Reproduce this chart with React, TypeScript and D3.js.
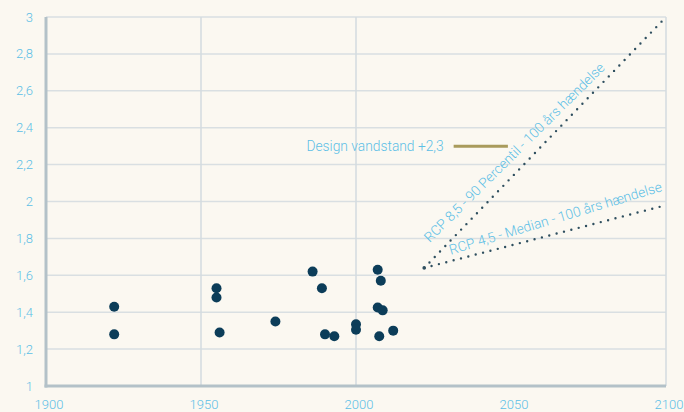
import React, { useRef, useEffect } from "react";
import * as d3 from "d3";

// observed high-water levels (year, metres)
const obsYears = [1922, 1922, 1955, 1955, 1956, 1974, 1986, 1989, 1990, 1993, 2000, 2000, 2007, 2008, 2007, 2008.6, 2007.5, 2012];
const obsLevels = [1.43, 1.28, 1.53, 1.48, 1.29, 1.35, 1.62, 1.53, 1.28, 1.27, 1.335, 1.305, 1.63, 1.57, 1.425, 1.41, 1.27, 1.30];

// projections (start / end)
const projYears = [2022, 2100];
const rcp85 = [1.64, 3.0];
const rcp45 = [1.64, 1.98];

const designLevel = 2.3;
const designYears = [2031.5, 2049];

const yTicks = [1, 1.2, 1.4, 1.6, 1.8, 2, 2.2, 2.4, 2.6, 2.8, 3];
const xTicks = [1900, 1950, 2000, 2050, 2100];
const xGrid = [1950, 2000, 2100];

const W = 684;
const H = 412;
const FONT = "Roboto, 'Noto Sans', sans-serif";
const BLUE = "#5dbfe6";
const NAVY = "#0c3d59";

const fmt = (v: number) => String(v).replace(".", ",");

const App: React.FC = () => {
  const svgRef = useRef<SVGSVGElement | null>(null);

  useEffect(() => {
    const svg = d3.select(svgRef.current);
    svg.selectAll("*").remove();

    const x = d3.scaleLinear().domain([1900, 2100]).range([46, 666]);
    const y = d3.scaleLinear().domain([1, 3]).range([386, 17]);

    svg.append("rect").attr("width", W).attr("height", H).attr("fill", "#fbf8f1");

    // horizontal grid
    svg.append("g")
      .selectAll("line")
      .data(yTicks.slice(1))
      .enter()
      .append("line")
      .attr("x1", x(1900))
      .attr("x2", x(2100))
      .attr("y1", (d) => y(d))
      .attr("y2", (d) => y(d))
      .attr("stroke", "#d9dfe2")
      .attr("stroke-width", 1.5);

    // vertical grid
    svg.append("g")
      .selectAll("line")
      .data(xGrid)
      .enter()
      .append("line")
      .attr("x1", (d) => x(d))
      .attr("x2", (d) => x(d))
      .attr("y1", y(3))
      .attr("y2", y(1))
      .attr("stroke", "#d3dbdf")
      .attr("stroke-width", 1.5);

    // axis lines
    svg.append("line")
      .attr("x1", x(1900)).attr("x2", x(1900))
      .attr("y1", y(3)).attr("y2", y(1) + 1.5)
      .attr("stroke", "#b3c1c8").attr("stroke-width", 3);
    svg.append("line")
      .attr("x1", x(1900) - 1.5).attr("x2", x(2100))
      .attr("y1", y(1)).attr("y2", y(1))
      .attr("stroke", "#b3c1c8").attr("stroke-width", 3);

    // tick labels
    svg.append("g")
      .selectAll("text")
      .data(yTicks)
      .enter()
      .append("text")
      .attr("x", 33)
      .attr("y", (d) => y(d))
      .attr("dy", "0.35em")
      .attr("text-anchor", "end")
      .attr("font-family", FONT)
      .attr("font-weight", 300)
      .attr("font-size", 13)
      .attr("fill", BLUE)
      .text((d) => fmt(d));

    svg.append("g")
      .selectAll("text")
      .data(xTicks)
      .enter()
      .append("text")
      .attr("x", (d) => x(d) + 3)
      .attr("y", 409)
      .attr("text-anchor", "middle")
      .attr("font-family", FONT)
      .attr("font-weight", 300)
      .attr("font-size", 13)
      .attr("fill", BLUE)
      .text((d) => d);

    // projection lines
    const line = d3
      .line<number>()
      .x((_, i) => x(projYears[i]))
      .y((d) => y(d));

    [rcp85, rcp45].forEach((s) => {
      svg.append("path")
        .attr("d", line(s) as string)
        .attr("fill", "none")
        .attr("stroke", "#2f4f5f")
        .attr("stroke-width", 2.4)
        .attr("stroke-linecap", "round")
        .attr("stroke-dasharray", "0 7.6");
    });
    svg.append("circle")
      .attr("cx", x(projYears[0]))
      .attr("cy", y(rcp85[0]))
      .attr("r", 1.8)
      .attr("fill", "#2f4f5f");

    // projection labels
    const angle = (s: number[]) =>
      (Math.atan2(y(s[1]) - y(s[0]), x(projYears[1]) - x(projYears[0])) * 180) / Math.PI;

    const labels = [
      { text: "RCP 8,5 - 90 Percentil - 100 års hændelse", yr: 2023.8, v: 1.775, a: angle(rcp85) + 1.3 },
      { text: "RCP 4,5 - Median - 100 års hændelse", yr: 2030.6, v: 1.712, a: angle(rcp45) - 2.2 },
    ];
    labels.forEach((l) => {
      svg.append("text")
        .attr("transform", `translate(${x(l.yr)},${y(l.v)}) rotate(${l.a})`)
        .attr("font-family", FONT)
        .attr("font-weight", 300)
        .attr("font-size", 13.8)
        .attr("fill", BLUE)
        .text(l.text);
    });

    // design level
    svg.append("line")
      .attr("x1", x(designYears[0]))
      .attr("x2", x(designYears[1]))
      .attr("y1", y(designLevel))
      .attr("y2", y(designLevel))
      .attr("stroke", "#a99b5c")
      .attr("stroke-width", 3);
    svg.append("text")
      .attr("x", x(designYears[0]) - 10)
      .attr("y", y(designLevel))
      .attr("dy", "0.35em")
      .attr("text-anchor", "end")
      .attr("font-family", FONT)
      .attr("font-weight", 300)
      .attr("font-size", 13.8)
      .attr("fill", BLUE)
      .text("Design vandstand +2,3");

    // observations
    svg.append("g")
      .selectAll("circle")
      .data(obsYears)
      .enter()
      .append("circle")
      .attr("cx", (d) => x(d))
      .attr("cy", (_, i) => y(obsLevels[i]))
      .attr("r", 5)
      .attr("fill", NAVY);
  }, []);

  return (
    <div style={{ position: "fixed", left: 0, top: 0 }}>
      <svg ref={svgRef} width={W} height={H} style={{ display: "block" }} />
    </div>
  );
};

export default App;
